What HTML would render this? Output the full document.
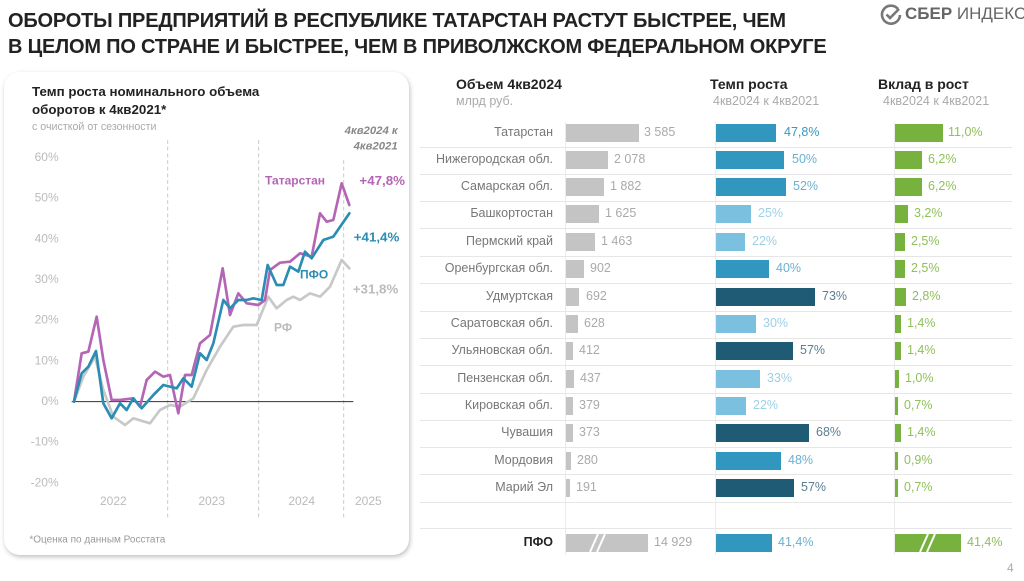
<!DOCTYPE html>
<html><head><meta charset="utf-8"><style>
*{margin:0;padding:0;box-sizing:border-box}
body{width:1024px;height:581px;background:#fff;font-family:"Liberation Sans","Noto Sans CJK SC",sans-serif;position:relative;overflow:hidden}
.t{position:absolute;white-space:nowrap}
.title{left:8px;top:8px;font-size:20px;font-weight:bold;color:#222;line-height:26px;letter-spacing:-0.2px}
.card{position:absolute;left:4px;top:72px;width:405px;height:483px;border-radius:16px;background:#fff;box-shadow:1px 2px 5px rgba(0,0,0,0.25)}
.hdr{font-size:14px;font-weight:bold;color:#222}
.sub{font-size:12.5px;color:#aaa}
.lbl{font-size:12.5px;color:#777;text-align:right;width:140px;left:413px}
.bar{position:absolute;height:18px}
.g{background:#c4c4c4}.b{background:#3197bf}.lb{background:#7bc0de}.db{background:#1f5b75}.gr{background:#77b23e}
.v{font-size:12.5px}
.sep{position:absolute;left:420px;width:592px;height:1px;background:#e6e6e6}
.vl{position:absolute;top:122px;height:433px;width:1px;background:#ececec}
</style></head><body>
<div class="t title">ОБОРОТЫ ПРЕДПРИЯТИЙ В РЕСПУБЛИКЕ ТАТАРСТАН РАСТУТ БЫСТРЕЕ, ЧЕМ<br>В ЦЕЛОМ ПО СТРАНЕ И БЫСТРЕЕ, ЧЕМ В ПРИВОЛЖСКОМ ФЕДЕРАЛЬНОМ ОКРУГЕ</div>
<svg style="position:absolute;left:880px;top:4px" width="22" height="22" viewBox="0 0 22 22"><path d="M18 5 A9 9 0 1 0 20 11" fill="none" stroke="#777" stroke-width="2.6"/><path d="M6.5 10.5 L10 14 L19 5" fill="none" stroke="#777" stroke-width="2.6"/></svg>
<div class="t" style="left:905px;top:4px;font-size:17px;color:#666"><b>СБЕР</b> ИНДЕКС</div>

<div class="card"></div>
<svg style="position:absolute;left:0;top:70px" width="420" height="490" viewBox="0 0 1260 1470" font-family="Liberation Sans, sans-serif">
<text x="96" y="78" font-size="40" font-weight="bold" fill="#222">Темп роста номинального объема</text>
<text x="96" y="132" font-size="40" font-weight="bold" fill="#222">оборотов к 4кв2021*</text>
<text x="96" y="180" font-size="32" fill="#aaa">с очисткой от сезонности</text>
<text x="1193" y="192" font-size="34" font-weight="bold" font-style="italic" fill="#888" text-anchor="end">4кв2024 к</text>
<text x="1193" y="238" font-size="34" font-weight="bold" font-style="italic" fill="#888" text-anchor="end">4кв2021</text>
<g font-size="36" fill="#bbb" text-anchor="end">
<text x="176" y="273">60%</text><text x="176" y="395">50%</text><text x="176" y="517">40%</text><text x="176" y="639">30%</text><text x="176" y="761">20%</text><text x="176" y="883">10%</text><text x="176" y="1005">0%</text><text x="176" y="1127">-10%</text><text x="176" y="1249">-20%</text>
</g>
<g stroke="#ccc" stroke-width="3" stroke-dasharray="12,8"><line x1="503" y1="210" x2="503" y2="1345"/><line x1="776" y1="210" x2="776" y2="1345"/><line x1="1031" y1="270" x2="1031" y2="1345"/></g>
<line x1="215" y1="995" x2="1060" y2="995" stroke="#333" stroke-width="3"/>
<g font-size="36" fill="#bbb" text-anchor="middle"><text x="340" y="1305">2022</text><text x="635" y="1305">2023</text><text x="905" y="1305">2024</text><text x="1105" y="1305">2025</text></g>
<g fill="none" stroke-width="8" stroke-linejoin="round" stroke-linecap="round">
<polyline stroke="#c8c8c8" points="222,995 250,920 285,860 310,960 340,1040 375,1065 400,1045 450,1060 480,1020 510,1005 540,1010 580,985 620,900 660,830 700,770 730,765 770,765 805,680 830,715 860,690 880,680 900,690 930,670 960,680 990,650 1025,570 1048,595"/>
<polyline stroke="#b565b5" points="222,995 245,850 265,845 290,740 310,870 335,990 360,990 400,985 420,1010 440,930 465,905 490,920 510,915 535,1030 555,915 575,915 600,820 630,795 668,595 690,735 715,670 740,700 775,705 795,690 810,600 840,578 870,575 900,550 935,560 960,430 980,455 1000,450 1025,340 1048,405"/>
<polyline stroke="#2b8db3" points="222,995 245,910 265,890 288,843 310,1000 335,1045 360,1000 380,1020 400,985 425,1015 460,975 490,945 530,955 550,925 575,950 600,850 620,870 640,820 670,690 690,715 715,690 740,690 760,685 785,690 803,585 830,645 850,645 870,590 895,605 915,545 935,565 970,510 1000,500 1048,430"/>
</g>
<text x="795" y="343" font-size="36" font-weight="bold" fill="#b565b5">Татарстан</text>
<text x="1215" y="345" font-size="40" font-weight="bold" fill="#b565b5" text-anchor="end">+47,8%</text>
<text x="1198" y="515" font-size="40" font-weight="bold" fill="#2b8db3" text-anchor="end">+41,4%</text>
<text x="900" y="625" font-size="36" font-weight="bold" fill="#2b8db3">ПФО</text>
<text x="1195" y="670" font-size="40" font-weight="bold" fill="#bbb" text-anchor="end">+31,8%</text>
<text x="822" y="785" font-size="36" font-weight="bold" fill="#bbb">РФ</text>
<text x="88" y="1418" font-size="30" fill="#999">*Оценка по данным Росстата</text>
</svg>

<div class="t hdr" style="left:456px;top:76px">Объем 4кв2024</div>
<div class="t sub" style="left:456px;top:94px">млрд руб.</div>
<div class="t hdr" style="left:710px;top:76px">Темп роста</div>
<div class="t sub" style="left:713px;top:94px">4кв2024 к 4кв2021</div>
<div class="t hdr" style="left:878px;top:76px">Вклад в рост</div>
<div class="t sub" style="left:883px;top:94px">4кв2024 к 4кв2021</div>

<div class="vl" style="left:565px"></div><div class="vl" style="left:715px"></div><div class="vl" style="left:894px"></div>

<div class="sep" style="top:147px"></div><div class="sep" style="top:174px"></div><div class="sep" style="top:201px"></div><div class="sep" style="top:228px"></div><div class="sep" style="top:256px"></div><div class="sep" style="top:283px"></div><div class="sep" style="top:311px"></div><div class="sep" style="top:338px"></div><div class="sep" style="top:365px"></div><div class="sep" style="top:393px"></div><div class="sep" style="top:420px"></div><div class="sep" style="top:447px"></div><div class="sep" style="top:474px"></div><div class="sep" style="top:502px"></div><div class="sep" style="top:528px"></div>

<!-- rows -->
<div class="t lbl" style="top:125px">Татарстан</div>
<div class="bar g" style="left:566px;top:124px;width:73px"></div><div class="t v" style="left:644px;top:125px;color:#aaa">3 585</div>
<div class="bar b" style="left:716px;top:124px;width:60px"></div><div class="t v" style="left:784px;top:125px;color:#3a97c0">47,8%</div>
<div class="bar gr" style="left:895px;top:124px;width:48px"></div><div class="t v" style="left:948px;top:125px;color:#8fc05a">11,0%</div>

<div class="t lbl" style="top:152px">Нижегородская обл.</div>
<div class="bar g" style="left:566px;top:151px;width:42px"></div><div class="t v" style="left:614px;top:152px;color:#aaa">2 078</div>
<div class="bar b" style="left:716px;top:151px;width:68px"></div><div class="t v" style="left:792px;top:152px;color:#6bb0d0">50%</div>
<div class="bar gr" style="left:895px;top:151px;width:27px"></div><div class="t v" style="left:928px;top:152px;color:#8fc05a">6,2%</div>

<div class="t lbl" style="top:179px">Самарская обл.</div>
<div class="bar g" style="left:566px;top:178px;width:38px"></div><div class="t v" style="left:610px;top:179px;color:#aaa">1 882</div>
<div class="bar b" style="left:716px;top:178px;width:70px"></div><div class="t v" style="left:793px;top:179px;color:#6bb0d0">52%</div>
<div class="bar gr" style="left:895px;top:178px;width:27px"></div><div class="t v" style="left:928px;top:179px;color:#8fc05a">6,2%</div>

<div class="t lbl" style="top:206px">Башкортостан</div>
<div class="bar g" style="left:566px;top:205px;width:33px"></div><div class="t v" style="left:605px;top:206px;color:#aaa">1 625</div>
<div class="bar lb" style="left:716px;top:205px;width:35px"></div><div class="t v" style="left:758px;top:206px;color:#9dd0e6">25%</div>
<div class="bar gr" style="left:895px;top:205px;width:13px"></div><div class="t v" style="left:914px;top:206px;color:#8fc05a">3,2%</div>

<div class="t lbl" style="top:234px">Пермский край</div>
<div class="bar g" style="left:566px;top:233px;width:29px"></div><div class="t v" style="left:601px;top:234px;color:#aaa">1 463</div>
<div class="bar lb" style="left:716px;top:233px;width:29px"></div><div class="t v" style="left:752px;top:234px;color:#9dd0e6">22%</div>
<div class="bar gr" style="left:895px;top:233px;width:10px"></div><div class="t v" style="left:911px;top:234px;color:#8fc05a">2,5%</div>

<div class="t lbl" style="top:261px">Оренбургская обл.</div>
<div class="bar g" style="left:566px;top:260px;width:18px"></div><div class="t v" style="left:590px;top:261px;color:#aaa">902</div>
<div class="bar b" style="left:716px;top:260px;width:53px"></div><div class="t v" style="left:776px;top:261px;color:#6bb0d0">40%</div>
<div class="bar gr" style="left:895px;top:260px;width:10px"></div><div class="t v" style="left:911px;top:261px;color:#8fc05a">2,5%</div>

<div class="t lbl" style="top:289px">Удмуртская</div>
<div class="bar g" style="left:566px;top:288px;width:13px"></div><div class="t v" style="left:586px;top:289px;color:#aaa">692</div>
<div class="bar db" style="left:716px;top:288px;width:99px"></div><div class="t v" style="left:822px;top:289px;color:#5a7f90">73%</div>
<div class="bar gr" style="left:895px;top:288px;width:11px"></div><div class="t v" style="left:912px;top:289px;color:#8fc05a">2,8%</div>

<div class="t lbl" style="top:316px">Саратовская обл.</div>
<div class="bar g" style="left:566px;top:315px;width:12px"></div><div class="t v" style="left:584px;top:316px;color:#aaa">628</div>
<div class="bar lb" style="left:716px;top:315px;width:40px"></div><div class="t v" style="left:763px;top:316px;color:#9dd0e6">30%</div>
<div class="bar gr" style="left:895px;top:315px;width:6px"></div><div class="t v" style="left:907px;top:316px;color:#8fc05a">1,4%</div>

<div class="t lbl" style="top:343px">Ульяновская обл.</div>
<div class="bar g" style="left:566px;top:342px;width:7px"></div><div class="t v" style="left:579px;top:343px;color:#aaa">412</div>
<div class="bar db" style="left:716px;top:342px;width:77px"></div><div class="t v" style="left:800px;top:343px;color:#5a7f90">57%</div>
<div class="bar gr" style="left:895px;top:342px;width:6px"></div><div class="t v" style="left:907px;top:343px;color:#8fc05a">1,4%</div>

<div class="t lbl" style="top:371px">Пензенская обл.</div>
<div class="bar g" style="left:566px;top:370px;width:8px"></div><div class="t v" style="left:580px;top:371px;color:#aaa">437</div>
<div class="bar lb" style="left:716px;top:370px;width:44px"></div><div class="t v" style="left:767px;top:371px;color:#9dd0e6">33%</div>
<div class="bar gr" style="left:895px;top:370px;width:4px"></div><div class="t v" style="left:905px;top:371px;color:#8fc05a">1,0%</div>

<div class="t lbl" style="top:398px">Кировская обл.</div>
<div class="bar g" style="left:566px;top:397px;width:7px"></div><div class="t v" style="left:579px;top:398px;color:#aaa">379</div>
<div class="bar lb" style="left:716px;top:397px;width:30px"></div><div class="t v" style="left:753px;top:398px;color:#9dd0e6">22%</div>
<div class="bar gr" style="left:895px;top:397px;width:3px"></div><div class="t v" style="left:904px;top:398px;color:#8fc05a">0,7%</div>

<div class="t lbl" style="top:425px">Чувашия</div>
<div class="bar g" style="left:566px;top:424px;width:7px"></div><div class="t v" style="left:579px;top:425px;color:#aaa">373</div>
<div class="bar db" style="left:716px;top:424px;width:93px"></div><div class="t v" style="left:816px;top:425px;color:#5a7f90">68%</div>
<div class="bar gr" style="left:895px;top:424px;width:6px"></div><div class="t v" style="left:907px;top:425px;color:#8fc05a">1,4%</div>

<div class="t lbl" style="top:453px">Мордовия</div>
<div class="bar g" style="left:566px;top:452px;width:5px"></div><div class="t v" style="left:577px;top:453px;color:#aaa">280</div>
<div class="bar b" style="left:716px;top:452px;width:65px"></div><div class="t v" style="left:788px;top:453px;color:#6bb0d0">48%</div>
<div class="bar gr" style="left:895px;top:452px;width:3px"></div><div class="t v" style="left:904px;top:453px;color:#8fc05a">0,9%</div>

<div class="t lbl" style="top:480px">Марий Эл</div>
<div class="bar g" style="left:566px;top:479px;width:4px"></div><div class="t v" style="left:576px;top:480px;color:#aaa">191</div>
<div class="bar db" style="left:716px;top:479px;width:78px"></div><div class="t v" style="left:801px;top:480px;color:#5a7f90">57%</div>
<div class="bar gr" style="left:895px;top:479px;width:3px"></div><div class="t v" style="left:904px;top:480px;color:#8fc05a">0,7%</div>

<div class="t lbl" style="top:535px;color:#222;font-weight:bold">ПФО</div>
<div class="bar g" style="left:566px;top:534px;width:82px"></div>
<svg style="position:absolute;left:588px;top:534px" width="20" height="18"><path d="M2 18 L10 0 M9 18 L17 0" stroke="#fff" stroke-width="2"/></svg>
<div class="t v" style="left:654px;top:535px;color:#aaa">14 929</div>
<div class="bar b" style="left:716px;top:534px;width:56px"></div><div class="t v" style="left:778px;top:535px;color:#6bb0d0">41,4%</div>
<div class="bar gr" style="left:895px;top:534px;width:66px"></div>
<svg style="position:absolute;left:918px;top:534px" width="20" height="18"><path d="M2 18 L10 0 M9 18 L17 0" stroke="#fff" stroke-width="2"/></svg>
<div class="t v" style="left:967px;top:535px;color:#8fc05a">41,4%</div>

<div class="t" style="left:1007px;top:561px;font-size:12px;color:#aaa">4</div>
</body></html>
